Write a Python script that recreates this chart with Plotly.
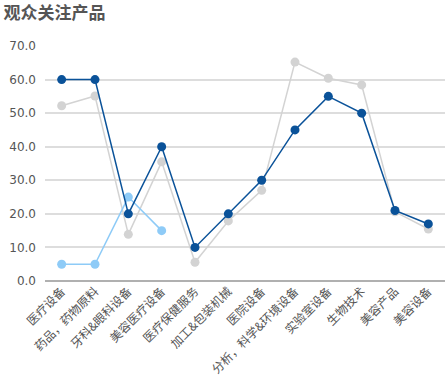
import plotly.graph_objects as go

categories = ["医疗设备", "药品，药物原料", "牙科&眼科设备", "美容医疗设备", "医疗保健服务",
              "加工&包装机械", "医院设备", "分析，科学&环境设备", "实验室设备", "生物技术",
              "美容产品", "美容设备"]
series_gray = [52.2, 55.1, 13.9, 35.5, 5.6, 17.9, 27.0, 65.2, 60.4, 58.4, 20.6, 15.5]
series_dark = [60, 60, 20, 40, 10, 20, 30, 45, 55, 50, 21, 17]
series_light = [5, 5, 25, 15]
y_ticks = [0, 10, 20, 30, 40, 50, 60, 70]

fig = go.Figure()
fig.add_trace(go.Scatter(x=categories, y=series_gray, mode="lines+markers",
                         line=dict(color="#d3d3d3", width=1.5),
                         marker=dict(color="#d3d3d3", size=9), showlegend=False))
fig.add_trace(go.Scatter(x=categories[:len(series_light)], y=series_light, mode="lines+markers",
                         line=dict(color="#8ecbf7", width=1.5),
                         marker=dict(color="#8ecbf7", size=9), showlegend=False))
fig.add_trace(go.Scatter(x=categories, y=series_dark, mode="lines+markers",
                         line=dict(color="#0a5299", width=1.5),
                         marker=dict(color="#0a5299", size=9), showlegend=False))

fig.update_layout(
    width=446, height=386,
    margin=dict(l=45, r=1, t=46, b=105, autoexpand=False),
    paper_bgcolor="white", plot_bgcolor="white",
    title=dict(text="<b>观众关注产品</b>", x=0.008, xanchor="left", y=0.966, yanchor="middle",
               font=dict(family="Noto Sans CJK SC", size=17, color="#555555")),
    font=dict(family="Noto Sans CJK SC", size=12, color="#555555"),
    xaxis=dict(tickangle=-45, showgrid=False, showline=False, ticks="", automargin=False,
               tickfont=dict(size=12, color="#555555"), range=[-0.5, 11.5]),
    yaxis=dict(range=[0, 70], tickvals=y_ticks, ticktext=[f"{v:.1f}" for v in y_ticks],
               automargin=False,
               gridcolor="#dddddd", gridwidth=1.5, zeroline=True, zerolinecolor="#b0b0b0",
               zerolinewidth=1.5, ticks="", ticklabelstandoff=8,
               tickfont=dict(family="DejaVu Sans", size=12, color="#555555")),
)
fig.write_html("out.html", config={"displayModeBar": False},
               post_script="document.body.style.margin='0';document.body.style.overflow='hidden';")
